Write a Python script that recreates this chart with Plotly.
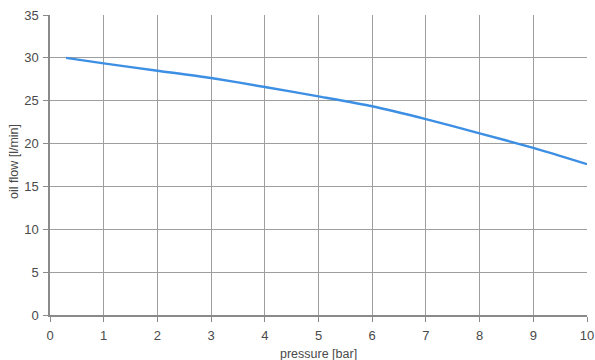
import plotly.graph_objects as go

pressure = [0.3, 1, 2, 3, 4, 5, 6, 7, 8, 9, 10]
oil_flow = [30.0, 29.35, 28.5, 27.65, 26.6, 25.5, 24.35, 22.85, 21.2, 19.5, 17.6]

x_ticks = list(range(0, 11))
y_ticks = list(range(0, 36, 5))
x_title = "pressure [bar]"
y_title = "oil flow [l/min]"

fig = go.Figure()
fig.add_trace(go.Scatter(
    x=pressure, y=oil_flow, mode="lines",
    line=dict(color="#3d8fe3", width=2.4, shape="spline", smoothing=0.6),
    showlegend=False, hoverinfo="skip",
))

font_family = "Liberation Sans, Arial, sans-serif"
text_color = "#4a4a4a"
axis_common = dict(
    showgrid=True, gridcolor="#9e9e9e", gridwidth=1,
    showline=True, linecolor="#8a8a8a", linewidth=1.5, mirror=False,
    ticks="outside", ticklen=5, tickcolor="#8a8a8a", tickwidth=1,
    tickfont=dict(family=font_family, size=13, color=text_color),
    zeroline=False, automargin=False, ticklabeloverflow="allow",
)

fig.update_xaxes(range=[0, 10], tickvals=x_ticks, ticktext=[str(v) for v in x_ticks],
                 ticklabelstandoff=3, **axis_common)
fig.update_yaxes(range=[0, 35], tickvals=y_ticks, ticktext=[str(v) for v in y_ticks],
                 ticklabelstandoff=2, **axis_common)

fig.add_annotation(text=x_title, xref="paper", yref="paper", x=0.5, y=-0.13,
                   xanchor="center", yanchor="middle", showarrow=False,
                   font=dict(family=font_family, size=12.5, color=text_color))
fig.add_annotation(text=y_title, xref="paper", yref="paper", x=-0.067, y=0.51,
                   xanchor="center", yanchor="middle", showarrow=False, textangle=-90,
                   font=dict(family=font_family, size=12.5, color=text_color))

fig.update_layout(
    width=595, height=360,
    margin=dict(l=50, r=8, t=15, b=45),
    paper_bgcolor="white", plot_bgcolor="white",
)

fig.write_html(
    "out.html",
    config={"displayModeBar": False, "responsive": False},
    post_script="document.body.style.margin='0';document.body.style.overflow='hidden';",
)
